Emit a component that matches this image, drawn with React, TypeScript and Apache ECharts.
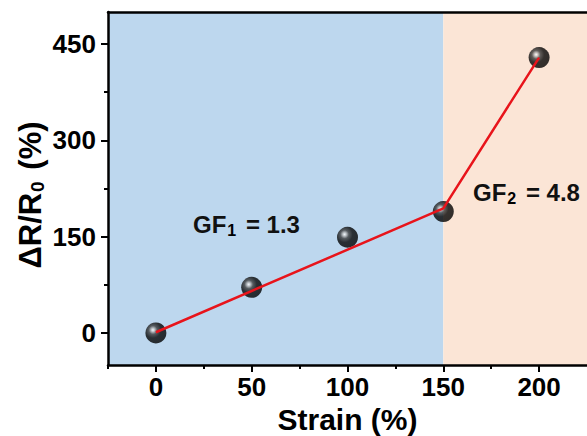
import React, { useEffect, useRef } from "react";
import * as echarts from "echarts";

const strain = [0, 50, 100, 150, 200];
const resistance = [0, 71, 149, 189, 429];
const fitStrain = [0, 150, 200];
const fitValues = [1, 194, 429];
const xMajorTicks = [0, 50, 100, 150, 200];
const xMinorTicks = [-25, 25, 75, 125, 175];
const yMajorTicks = [0, 150, 300, 450];
const yMinorTicks = [75, 225, 375];
const regions = [
  { from: -25, to: 150, color: "#BDD7EE" },
  { from: 150, to: 225, color: "#FBE5D6" },
];

const FONT = "'Liberation Sans', Arial, sans-serif";

export default function App() {
  const ref = useRef<HTMLDivElement>(null);
  useEffect(() => {
    if (!ref.current) return;
    const chart = echarts.init(ref.current, null, { renderer: "svg" });
    const axisLine = { show: true, onZero: false, lineStyle: { color: "#000", width: 2.5 } };
    const hiddenLine = { show: false, onZero: false };
    const ballColor = {
      type: "radial",
      x: 0.36,
      y: 0.36,
      r: 0.64,
      colorStops: [
        { offset: 0, color: "#ffffff" },
        { offset: 0.12, color: "#c0c0c0" },
        { offset: 0.32, color: "#3a3a3a" },
        { offset: 0.6, color: "#050505" },
        { offset: 1, color: "#000000" },
      ],
    };
    const subStyle = (size: number, drop: number) => ({
      fontSize: size,
      fontWeight: "bold",
      fill: "#000",
      fontFamily: FONT,
      lineHeight: size,
      padding: [drop, 3, 0, 1],
      verticalAlign: "bottom",
    });
    const option: any = {
      animation: false,
      textStyle: { fontFamily: FONT },
      grid: { left: 108, top: 12, right: 0, bottom: 71, containLabel: false, outerBoundsMode: "none" },
      xAxis: [
        {
          type: "value",
          min: -25,
          max: 225,
          position: "bottom",
          axisLine,
          splitLine: { show: false },
          axisTick: { show: true, customValues: xMajorTicks, length: 7, lineStyle: { color: "#000", width: 2 } },
          axisLabel: {
            customValues: xMajorTicks,
            margin: 9,
            color: "#000",
            fontSize: 26,
            fontWeight: "bold",
            fontFamily: FONT,
          },
          name: "Strain (%)",
          nameLocation: "middle",
          nameGap: 33,
          nameTextStyle: { color: "#000", fontSize: 30, fontWeight: "bold", fontFamily: FONT },
        },
        {
          type: "value",
          min: -25,
          max: 225,
          position: "bottom",
          axisLine: hiddenLine,
          splitLine: { show: false },
          axisTick: { show: true, customValues: xMinorTicks, length: 4, lineStyle: { color: "#000", width: 2 } },
          axisLabel: { show: false },
        },
        {
          type: "value",
          min: -25,
          max: 225,
          position: "top",
          axisLine,
          splitLine: { show: false },
          axisTick: { show: false },
          axisLabel: { show: false },
        },
      ],
      yAxis: [
        {
          type: "value",
          min: -50,
          max: 500,
          position: "left",
          axisLine,
          splitLine: { show: false },
          axisTick: { show: true, customValues: yMajorTicks, length: 7, lineStyle: { color: "#000", width: 2 } },
          axisLabel: {
            customValues: yMajorTicks,
            margin: 12,
            color: "#000",
            fontSize: 26,
            fontWeight: "bold",
            fontFamily: FONT,
          },
        },
        {
          type: "value",
          min: -50,
          max: 500,
          position: "left",
          axisLine: hiddenLine,
          splitLine: { show: false },
          axisTick: { show: true, customValues: yMinorTicks, length: 4, lineStyle: { color: "#000", width: 2 } },
          axisLabel: { show: false },
        },
      ],
      series: [
        {
          type: "scatter",
          xAxisIndex: 0,
          yAxisIndex: 0,
          data: strain.map((s, i) => [s, resistance[i]]),
          symbol: "circle",
          symbolSize: 21,
          itemStyle: { color: ballColor },
          z: 3,
          markArea: {
            silent: true,
            z: 0,
            data: regions.map((r) => [
              { xAxis: r.from, yAxis: -50, itemStyle: { color: r.color, opacity: 1 } },
              { xAxis: r.to, yAxis: 500 },
            ]),
          },
        },
        {
          type: "line",
          xAxisIndex: 0,
          yAxisIndex: 0,
          data: fitStrain.map((s, i) => [s, fitValues[i]]),
          showSymbol: false,
          symbol: "none",
          lineStyle: { color: "#E8141B", width: 2.5 },
          z: 4,
        },
      ],
      graphic: [
        {
          type: "text",
          x: 30,
          y: 195,
          rotation: Math.PI / 2,
          style: {
            text: "{m|ΔR/R}{s|0}{m| (%)}",
            align: "center",
            verticalAlign: "middle",
            rich: {
              m: { fontSize: 31, fontWeight: "bold", fill: "#000", fontFamily: FONT, lineHeight: 34 },
              s: subStyle(19, 20),
            },
          },
          z: 10,
        },
        {
          type: "text",
          x: 193,
          y: 224,
          style: {
            text: "{m|GF}{s|1}{m| = 1.3}",
            verticalAlign: "middle",
            rich: {
              m: { fontSize: 24, fontWeight: "bold", fill: "#111", fontFamily: FONT, lineHeight: 28 },
              s: subStyle(16, 16),
            },
          },
          z: 10,
        },
        {
          type: "text",
          x: 473,
          y: 192,
          style: {
            text: "{m|GF}{s|2}{m| = 4.8}",
            verticalAlign: "middle",
            rich: {
              m: { fontSize: 24, fontWeight: "bold", fill: "#111", fontFamily: FONT, lineHeight: 28 },
              s: subStyle(16, 16),
            },
          },
          z: 10,
        },
      ],
    };
    chart.setOption(option);
    return () => chart.dispose();
  }, []);
  return <div ref={ref} style={{ width: 587, height: 436, position: "absolute", left: 0, top: 0 }} />;
}
